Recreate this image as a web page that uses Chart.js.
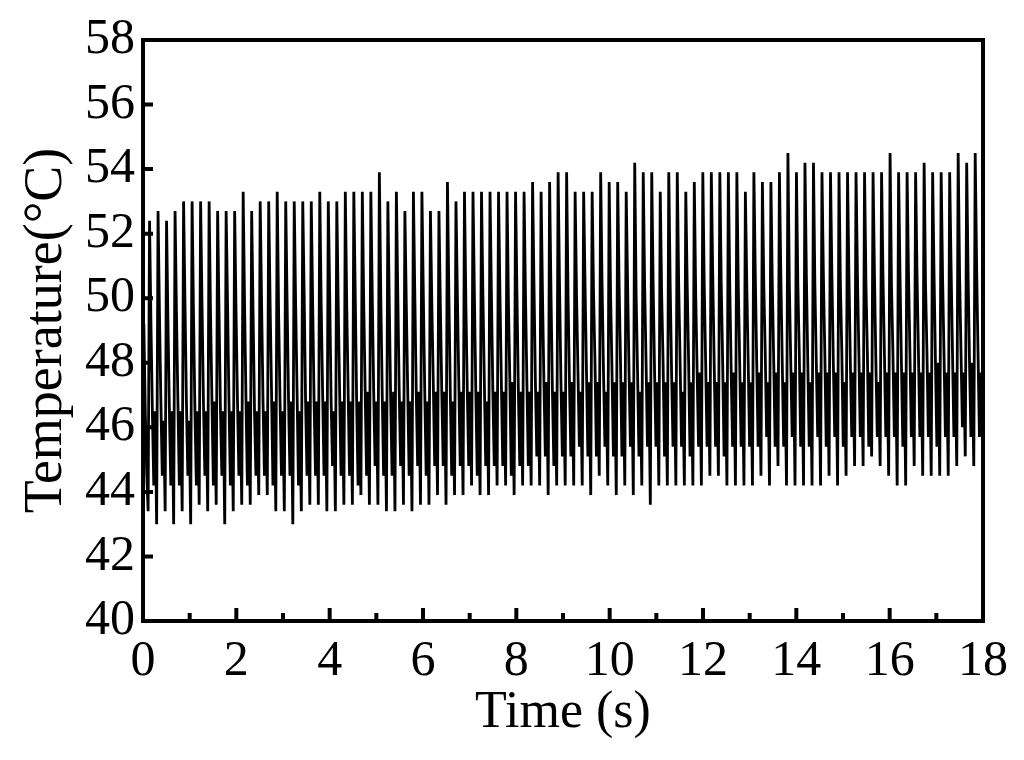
<!DOCTYPE html>
<html>
<head>
<meta charset="utf-8">
<script src="https://cdn.jsdelivr.net/npm/chart.js@4/dist/chart.umd.min.js"></script>
<style>
  html, body { margin: 0; padding: 0; background: #fff; }
  #wrap { width: 1024px; height: 760px; position: relative; }
</style>
</head>
<body>
<div id="wrap"><canvas id="chart"></canvas></div>
<script>
// thermal trace, one row per sample phase, one entry per cycle (98 cycles)
const firstPeakTime = 0.14;
const cyclePeriod = 0.1824;
const samplesPerCycle = 6;

const leadC = [49.2, 46.5, 44.6];

const peakC = [
  52.4, 52.7, 52.4, 52.7, 53.0, 53.0, 53.0, 53.0, 52.7, 52.7,
  52.7, 53.3, 52.7, 53.0, 53.0, 53.3, 53.0, 53.0, 53.0, 53.0,
  53.3, 53.0, 53.0, 53.3, 53.3, 53.3, 53.3, 53.9, 53.0, 53.3,
  52.7, 53.3, 53.3, 52.7, 52.7, 53.6, 53.0, 53.3, 53.3, 53.3,
  53.3, 53.3, 53.3, 53.3, 53.3, 53.6, 53.3, 53.6, 53.9, 53.9,
  53.3, 53.3, 53.3, 53.9, 53.6, 53.6, 53.3, 54.2, 53.9, 53.9,
  53.3, 53.9, 53.9, 53.3, 53.6, 53.9, 53.9, 53.9, 53.9, 53.9,
  53.3, 53.9, 53.6, 53.6, 53.9, 54.5, 53.9, 54.2, 54.2, 53.9,
  53.9, 53.9, 53.9, 53.9, 53.9, 53.9, 53.9, 54.5, 53.9, 53.9,
  53.9, 54.2, 53.9, 53.9, 53.9, 54.5, 54.2, 54.5
];

const troughC = [
  43.4, 43.0, 43.4, 43.0, 43.4, 43.0, 43.6, 43.4, 43.6, 43.0,
  43.4, 43.6, 43.6, 43.9, 43.9, 43.4, 43.4, 43.0, 43.4, 43.6,
  43.6, 43.4, 43.4, 43.6, 43.6, 43.9, 43.6, 43.6, 43.4, 43.4,
  43.6, 43.4, 43.6, 43.6, 43.9, 43.6, 43.9, 43.9, 44.2, 43.9,
  43.9, 44.2, 44.2, 43.9, 44.2, 44.2, 44.2, 43.9, 44.2, 44.2,
  44.2, 44.2, 43.9, 44.5, 44.2, 43.9, 44.2, 43.9, 44.2, 43.6,
  44.2, 44.2, 44.2, 44.2, 44.2, 44.2, 44.5, 44.5, 44.2, 44.2,
  44.2, 44.2, 44.5, 44.2, 44.8, 44.2, 44.2, 44.2, 44.2, 44.2,
  44.5, 44.2, 44.5, 44.8, 44.8, 45.1, 44.8, 44.5, 44.2, 44.2,
  44.8, 44.5, 44.5, 44.5, 44.5, 44.8, 45.1, 44.8
];

const shoulderC = [
  49.2, 49.5, 49.2, 49.5, 49.8, 49.5, 49.8, 49.5, 49.5, 49.8,
  49.5, 49.8, 49.5, 49.8, 49.8, 49.5, 49.8, 49.8, 50.1, 49.8,
  49.8, 50.1, 49.8, 49.8, 50.1, 49.8, 50.1, 50.1, 49.8, 50.1,
  49.8, 50.1, 50.1, 49.8, 49.8, 50.1, 50.1, 49.8, 50.1, 50.1,
  50.1, 50.1, 49.8, 50.1, 50.1, 50.4, 50.1, 50.1, 50.4, 50.1,
  50.1, 50.4, 50.1, 50.4, 50.1, 50.4, 50.4, 50.1, 50.4, 50.4,
  50.1, 50.4, 50.4, 50.4, 50.1, 50.4, 50.7, 50.4, 50.4, 50.4,
  50.4, 50.7, 50.4, 50.4, 50.7, 50.4, 50.4, 50.7, 50.4, 50.7,
  50.7, 50.4, 50.7, 50.7, 50.4, 50.7, 50.7, 50.4, 50.7, 50.7,
  50.7, 50.4, 50.7, 50.7, 51.0, 50.7, 50.7, 51.0
];

const bandTopC = [
  46.5, 46.8, 46.5, 46.8, 46.8, 46.5, 46.8, 46.8, 46.5, 46.8,
  46.8, 46.8, 46.5, 46.8, 47.1, 46.8, 46.8, 47.1, 46.8, 46.8,
  47.1, 46.8, 47.1, 47.1, 46.8, 47.1, 47.1, 47.1, 46.8, 47.1,
  47.1, 47.1, 47.1, 47.4, 47.1, 47.1, 47.4, 47.1, 47.1, 47.4,
  47.1, 47.4, 47.4, 47.1, 47.4, 47.4, 47.4, 47.1, 47.4, 47.4,
  47.7, 47.7, 48.0, 47.7, 47.7, 48.0, 47.7, 47.7, 48.0, 47.7,
  48.0, 47.7, 48.0, 48.0, 47.7, 48.0, 48.0, 48.0, 47.7, 48.0,
  48.0, 48.0, 48.3, 48.0, 48.0, 48.0, 48.3, 48.0, 48.0, 48.3,
  48.0, 48.3, 48.0, 48.3, 48.3, 48.0, 48.3, 48.3, 48.0, 48.3,
  48.3, 48.3, 48.0, 48.3, 48.3, 48.3, 48.0, 48.3
];

const dipC = [
  44.2, 44.5, 44.2, 44.2, 44.5, 44.2, 44.5, 44.2, 44.5, 44.2,
  44.5, 44.2, 44.5, 44.5, 44.2, 44.5, 44.5, 44.2, 44.5, 44.5,
  44.5, 44.8, 44.5, 44.5, 44.2, 44.5, 44.8, 44.5, 44.5, 44.8,
  44.5, 44.8, 44.5, 44.8, 44.8, 44.5, 44.8, 44.8, 44.5, 44.8,
  44.8, 44.8, 44.5, 44.8, 44.8, 45.1, 45.1, 44.8, 45.1, 45.1,
  45.4, 45.1, 45.1, 45.4, 45.1, 45.1, 45.4, 45.1, 45.4, 45.4,
  45.1, 45.4, 45.4, 45.1, 45.4, 45.4, 45.4, 45.1, 45.4, 45.4,
  45.4, 45.4, 45.7, 45.4, 45.4, 45.7, 45.4, 45.4, 45.7, 45.4,
  45.7, 45.4, 45.7, 45.7, 45.4, 45.7, 45.7, 45.7, 45.4, 45.7,
  45.7, 45.7, 45.4, 45.7, 45.7, 46.0, 45.7, 45.7
];

const riseC = [
  46.5, 46.2, 46.5, 46.5, 46.2, 46.5, 46.5, 46.8, 46.5, 46.5,
  46.5, 46.8, 46.5, 46.5, 46.8, 46.5, 46.8, 46.5, 46.8, 46.8,
  46.8, 46.5, 46.8, 46.8, 46.8, 47.1, 46.8, 46.8, 47.1, 46.8,
  46.8, 47.1, 46.8, 47.1, 47.1, 46.8, 47.1, 47.1, 47.1, 46.8,
  47.1, 47.1, 47.4, 47.1, 47.1, 47.1, 47.4, 47.1, 47.1, 47.4,
  47.1, 47.4, 47.4, 47.1, 47.4, 47.4, 47.4, 47.1, 47.4, 47.4,
  47.4, 47.4, 47.1, 47.4, 47.7, 47.4, 47.4, 47.4, 47.7, 47.4,
  47.4, 47.7, 47.4, 47.7, 47.4, 47.7, 47.7, 47.4, 47.7, 47.7,
  47.7, 47.4, 47.7, 47.7, 47.7, 47.4, 47.7, 47.7, 47.7, 47.7,
  47.7, 47.7, 48.0, 47.7, 47.7, 47.7, 48.0, 47.7
];

const yTickValues = [40, 42, 44, 46, 48, 50, 52, 54, 56, 58];
const xMajorTicks = [0, 2, 4, 6, 8, 10, 12, 14, 16, 18];
const xMinorTicks = [1, 3, 5, 7, 9, 11, 13, 15, 17];

// build the sample list: trough just before each peak, then the decay
const dt = cyclePeriod / samplesPerCycle;
const points = [];
leadC.forEach(function (v, i) {
  points.push({ x: firstPeakTime - (leadC.length + 1 - i) * dt, y: v });
});
peakC.forEach(function (p, k) {
  const tp = firstPeakTime + k * cyclePeriod;
  const cyc = [troughC[k], p, shoulderC[k], bandTopC[k], dipC[k], riseC[k]];
  cyc.forEach(function (v, j) {
    points.push({ x: tp + (j - 1) * dt, y: v });
  });
});

const serif = "'Liberation Serif', 'Times New Roman', serif";
Chart.defaults.font.family = serif;
Chart.defaults.color = "#000";

// frame + inward tick marks
const framePlugin = {
  id: "frame",
  afterDatasetsDraw: function (chart) {
    const ctx = chart.ctx;
    const a = chart.chartArea;
    const xs = chart.scales.x;
    const ys = chart.scales.y;
    ctx.save();
    ctx.strokeStyle = "#000";
    ctx.lineWidth = 4;
    ctx.lineCap = "butt";
    ctx.beginPath();
    yTickValues.forEach(function (v) {
      const y = ys.getPixelForValue(v);
      ctx.moveTo(a.left, y);
      ctx.lineTo(a.left + 10, y);
    });
    xMajorTicks.forEach(function (v) {
      const x = xs.getPixelForValue(v);
      ctx.moveTo(x, a.bottom);
      ctx.lineTo(x, a.bottom - 13);
    });
    xMinorTicks.forEach(function (v) {
      const x = xs.getPixelForValue(v);
      ctx.moveTo(x, a.bottom);
      ctx.lineTo(x, a.bottom - 8);
    });
    ctx.stroke();
    ctx.strokeRect(a.left, a.top, a.right - a.left, a.bottom - a.top);
    ctx.restore();
  },
};

new Chart(document.getElementById("chart"), {
  type: "line",
  data: {
    datasets: [
      {
        data: points,
        borderColor: "#000",
        borderWidth: 2.8,
        pointRadius: 0,
        tension: 0,
        fill: false,
      },
    ],
  },
  options: {
    responsive: true,
    maintainAspectRatio: false,
    animation: false,
    events: [],
    layout: { padding: { left: 0, top: 40, right: 41, bottom: 0 } },
    plugins: { legend: { display: false }, tooltip: { enabled: false } },
    scales: {
      x: {
        type: "linear",
        min: 0,
        max: 18,
        afterFit: function (s) { s.height = 139; },
        ticks: { stepSize: 2, maxRotation: 0, padding: 11, font: { size: 50 } },
        grid: { display: false, drawTicks: false },
        border: { display: false },
        title: {
          display: true,
          text: "Time (s)",
          font: { size: 52, lineHeight: 1 },
          padding: { top: 0, bottom: 21 },
        },
      },
      y: {
        min: 40,
        max: 58,
        afterFit: function (s) { s.width = 143; },
        ticks: { stepSize: 2, padding: 8, font: { size: 50 } },
        grid: { display: false, drawTicks: false },
        border: { display: false },
        title: {
          display: true,
          text: "Temperature(°C)",
          font: { size: 54, lineHeight: 1 },
          padding: { top: 20, bottom: 0 },
        },
      },
    },
  },
  plugins: [framePlugin],
});
</script>
</body>
</html>
